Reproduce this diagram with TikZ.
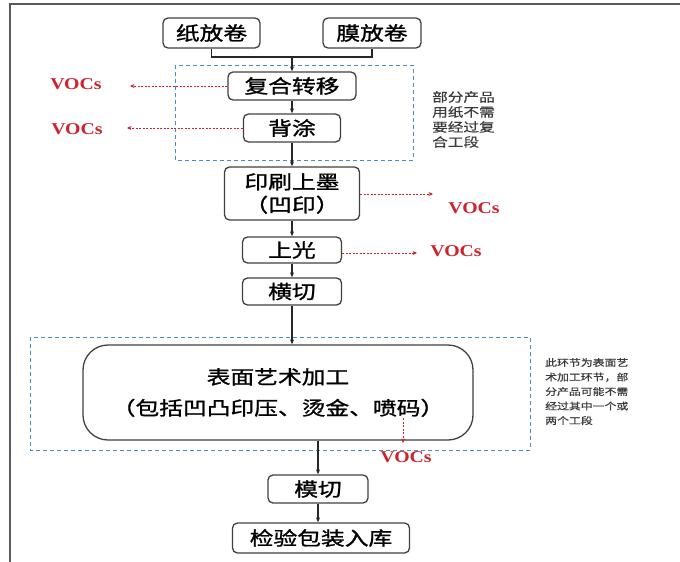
\documentclass[tikz,border=0pt]{standalone}
\usepackage{fontspec}
\setmainfont{Liberation Serif}
\newfontfamily\cjk[FakeStretch=1.25, FakeBold=1.2]{Noto Sans CJK SC}
\newfontfamily\cjknote[FakeStretch=1.25, FakeBold=0.6]{Noto Sans CJK SC}
\newfontfamily\vocfont[FakeStretch=1.2]{Liberation Serif}
\usetikzlibrary{arrows.meta,positioning}
\definecolor{darkred}{RGB}{205,35,45}
\definecolor{dashblue}{RGB}{70,140,200}
\definecolor{notegray}{RGB}{60,60,60}
\definecolor{framegray}{RGB}{90,90,90}

\begin{document}
\begin{tikzpicture}[x=1pt, y=-1pt,
        box/.style={rectangle, draw=black!75, line width=1.3pt, rounded corners=5pt, align=center, inner sep=0pt, font=\cjk\fontsize{19}{23}\selectfont},
        arrow/.style={-{Stealth[length=5pt,width=4pt]}, line width=1.1pt, black!85},
        emit/.style={-{Stealth[length=4.5pt,width=4pt]}, darkred, line width=0.5pt, dash pattern=on 2pt off 1.5pt},
        vocs/.style={text=darkred, font=\vocfont\bfseries\fontsize{16.5}{18}\selectfont, inner sep=0pt},
        group/.style={draw=dashblue, line width=1pt, dash pattern=on 4pt off 3pt},
        note/.style={text=notegray, align=left, inner sep=0pt, anchor=north west}
    ]
    \useasboundingbox (0,0) rectangle (680,562);
    \draw[framegray, line width=1.8pt] (10,562) -- (10,4) -- (680,4);

    % dashed groups
    \draw[group] (175,65) rectangle (413,160);
    \draw[group] (30,337) rectangle (530,450);

    % process steps
    \node[box, minimum width=97pt, minimum height=30pt] (paper) at (211.5,33) {纸放卷};
    \node[box, minimum width=98pt, minimum height=30pt] (film) at (372,33) {膜放卷};
    \node[box, minimum width=128pt, minimum height=28pt] (comp) at (292,86) {复合转移};
    \node[box, minimum width=97pt, minimum height=28pt] (back) at (292,128) {背涂};
    \node[box, minimum width=135pt, minimum height=53pt] (print) at (292,193.5) {印刷上墨\\（凹印）};
    \node[box, minimum width=99pt, minimum height=26pt] (gloss) at (292,250) {上光};
    \node[box, minimum width=99pt, minimum height=27pt] (cross) at (292,291.5) {横切};
    \node[box, minimum width=390pt, minimum height=95pt, rounded corners=25pt, font=\cjk\fontsize{19}{31}\selectfont] (surface) at (278,392.5) {表面艺术加工\\（包括凹凸印压、烫金、喷码）};
    \node[box, minimum width=100pt, minimum height=28pt] (die) at (318,489) {模切};
    \node[box, minimum width=177pt, minimum height=30pt] (store) at (321,538) {检验包装入库};

    % flow
    \coordinate (merge) at (292,57);
    \draw[line width=1.1pt, black!85] (paper.south) |- (merge) -| (film.south);
    \draw[arrow] (merge) -- (comp.north);
    \draw[arrow] (comp) -- (back);
    \draw[arrow] (back) -- (print);
    \draw[arrow] (print) -- (gloss);
    \draw[arrow] (gloss) -- (cross);
    \draw[arrow] (cross) -- (cross |- surface.north);
    \draw[arrow] (die |- surface.south) -- (die);
    \draw[arrow] (die) -- (die |- store.north);

    % emissions
    \node[vocs] (v1) at (76,84) {VOCs};
    \node[vocs] (v2) at (77,129) {VOCs};
    \node[vocs] (v3) at (474,208) {VOCs};
    \node[vocs] (v4) at (456,251) {VOCs};
    \node[vocs] (v5) at (406,457) {VOCs};
    \coordinate (e1) at (130,86);
    \coordinate (e2) at (127,128);
    \coordinate (e3) at (433,194);
    \coordinate (e4) at (417,253);
    \coordinate (e5) at (403,443);
    \coordinate (s5) at (403,418);
    \draw[emit] (comp.west) -- (e1);
    \draw[emit] (back.west) -- (e2);
    \draw[emit] (print.east |- e3) -- (e3);
    \draw[emit] (gloss.east |- e4) -- (e4);
    \draw[emit] (s5) -- (e5);

    % notes
    \node[note, font=\cjknote\fontsize{12.5}{15}\selectfont] (note1) at (432,91) {部分产品\\用纸不需\\要经过复\\合工段};
    \node[note, font=\cjknote\fontsize{9.5}{14.5}\selectfont] (note2) at (545,358) {此环节为表面艺\\术加工环节，部\\分产品可能不需\\经过其中一个或\\两个工段};
\end{tikzpicture}
\end{document}
